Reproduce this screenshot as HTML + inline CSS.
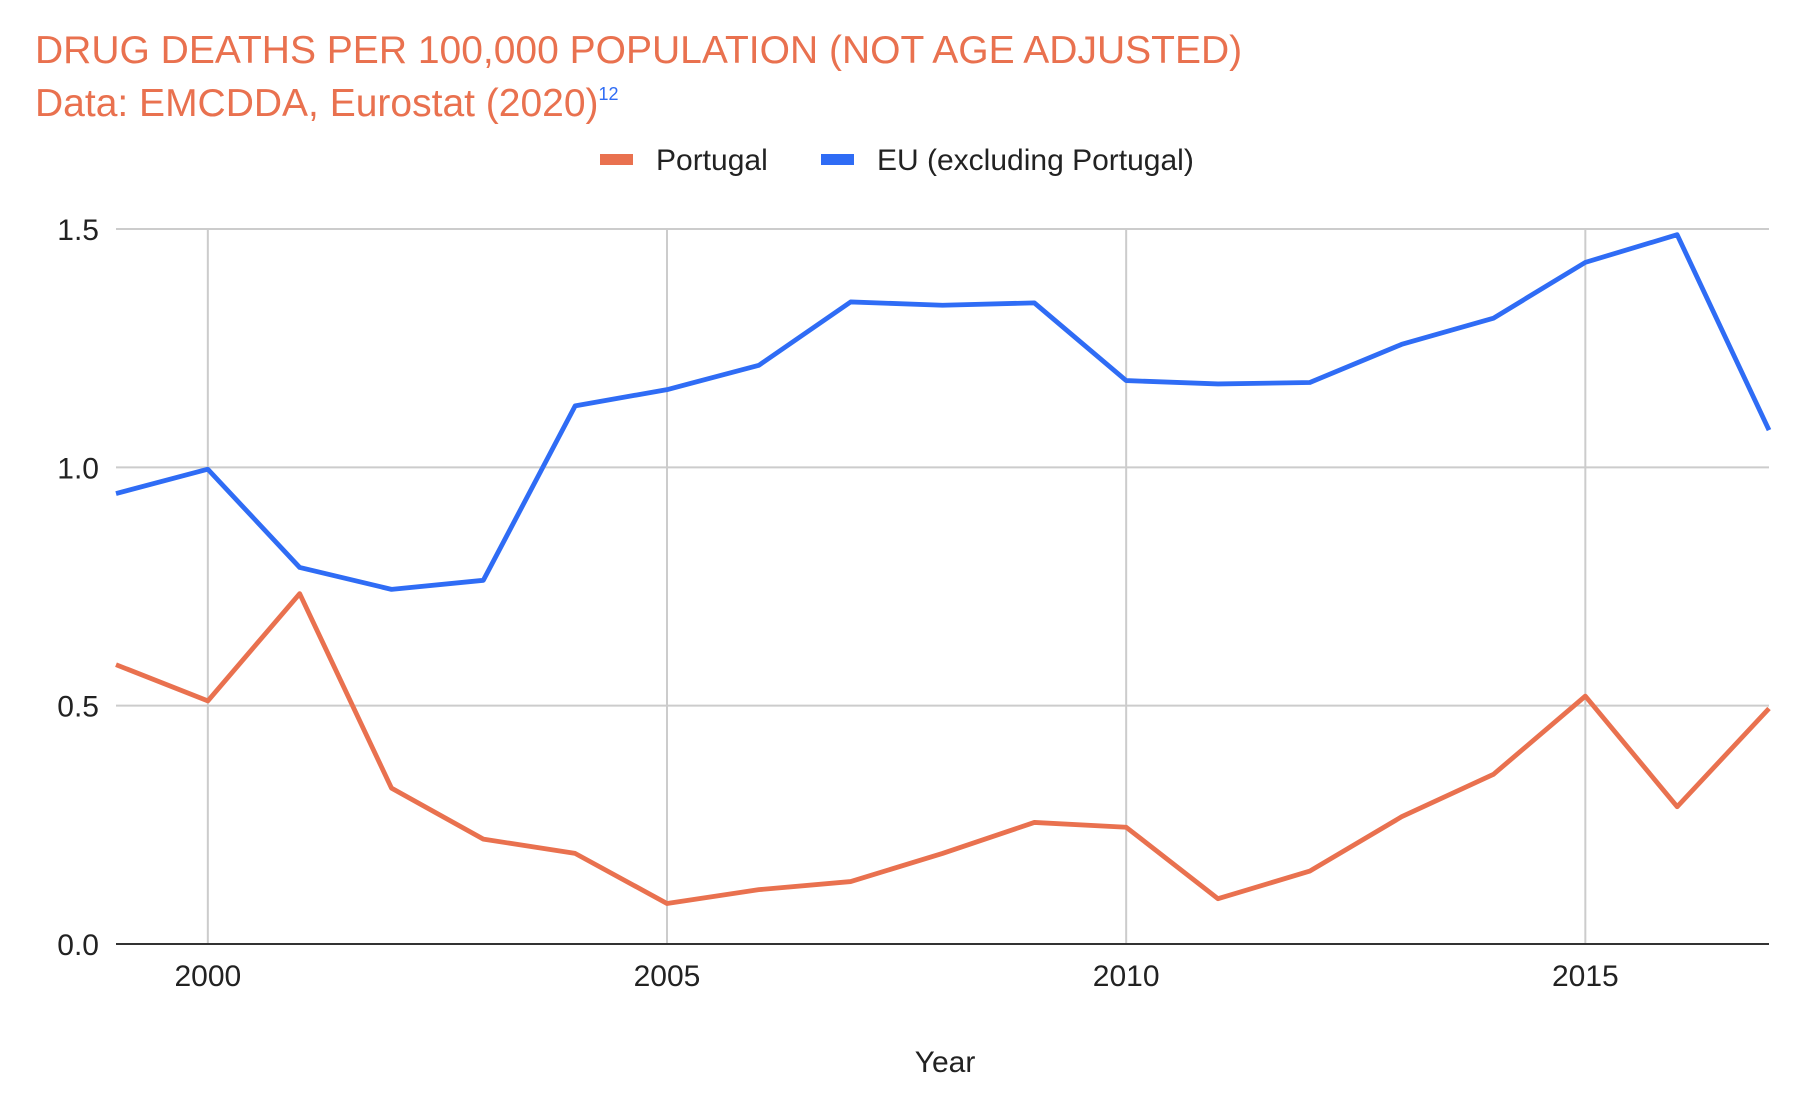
<!DOCTYPE html>
<html><head><meta charset="utf-8"><style>
html,body{margin:0;padding:0;background:#fff;}
svg{display:block;}
text{font-family:"Liberation Sans",Arial,sans-serif;}
</style></head><body>
<svg id="chart" width="1812" height="1102" viewBox="0 0 1812 1102">
<text x="35" y="63" font-size="39" fill="#e9714f">DRUG DEATHS PER 100,000 POPULATION (NOT AGE ADJUSTED)</text>
<text x="35" y="116" font-size="39" fill="#e9714f">Data: EMCDDA, Eurostat (2020)<tspan font-size="18" fill="#2f6cf5" dy="-16">12</tspan></text>
<g>
<rect x="600" y="154" width="33" height="11" fill="#e9714f"/>
<text x="656" y="170" font-size="30" fill="#222">Portugal</text>
<rect x="821" y="154" width="33" height="11" fill="#2f6cf5"/>
<text x="877" y="170" font-size="30" fill="#222">EU (excluding Portugal)</text>
</g>
<g id="grid"></g>
<g id="series"></g>
<g id="axes"></g>
<text x="945" y="1072" font-size="30" text-anchor="middle" fill="#222">Year</text>
</svg>
<script>
const years = [1999,2000,2001,2002,2003,2004,2005,2006,2007,2008,2009,2010,2011,2012,2013,2014,2015,2016,2017];
const portugal = [0.586,0.51,0.735,0.327,0.22,0.19,0.085,0.114,0.131,0.19,0.255,0.245,0.095,0.153,0.267,0.356,0.52,0.288,0.494];
const eu = [0.945,0.996,0.79,0.744,0.763,1.129,1.163,1.214,1.347,1.34,1.345,1.182,1.175,1.178,1.258,1.313,1.43,1.488,1.078];
const yTicks = [0,0.5,1.0,1.5];
const yTickLabels = ["0.0","0.5","1.0","1.5"];
const xTicks = [2000,2005,2010,2015];
const xTickLabels = ["2000","2005","2010","2015"];

const L=116,R=1769,Y0=944,Y1=229;
const xMin=1999,xMax=2017,yMax=1.5;
const xs=v=>L+(v-xMin)/(xMax-xMin)*(R-L);
const ys=v=>Y0-v/yMax*(Y0-Y1);
const NS="http://www.w3.org/2000/svg";
const grid=document.getElementById('grid'),axes=document.getElementById('axes'),ser=document.getElementById('series');
function mk(tag,attrs,parent){const e=document.createElementNS(NS,tag);for(const k in attrs)e.setAttribute(k,attrs[k]);parent.appendChild(e);return e;}
xTicks.forEach((t,i)=>{
  const g=mk('line',{x1:xs(t),x2:xs(t),y1:Y1,y2:Y0,stroke:'#cccccc','stroke-width':2},grid);
  
  
  const tx=mk('text',{x:xs(t),y:Y0+42,'font-size':30,'text-anchor':'middle',fill:'#222'},axes);
  tx.textContent=xTickLabels[i];
  
  
});
yTicks.forEach((t,i)=>{
  if(t>0){const g=mk('line',{x1:L,x2:R,y1:ys(t),y2:ys(t),stroke:'#cccccc','stroke-width':2},grid);
  
  }
  const tx=mk('text',{x:99,y:ys(t)+11,'font-size':30,'text-anchor':'end',fill:'#222'},axes);
  tx.textContent=yTickLabels[i];
  
  
});
const base=mk('line',{x1:L,x2:R,y1:Y0,y2:Y0,stroke:'#333','stroke-width':2},axes);


function line(vals,color,name){
  const p=mk('polyline',{points:vals.map((v,i)=>xs(years[i])+','+ys(v)).join(' '),fill:'none',stroke:color,'stroke-width':4.8,'stroke-linejoin':'round'},ser);
  
  
}
line(portugal,'#e9714f','portugal-line');
line(eu,'#2f6cf5','eu-line');
</script>
</body></html>
